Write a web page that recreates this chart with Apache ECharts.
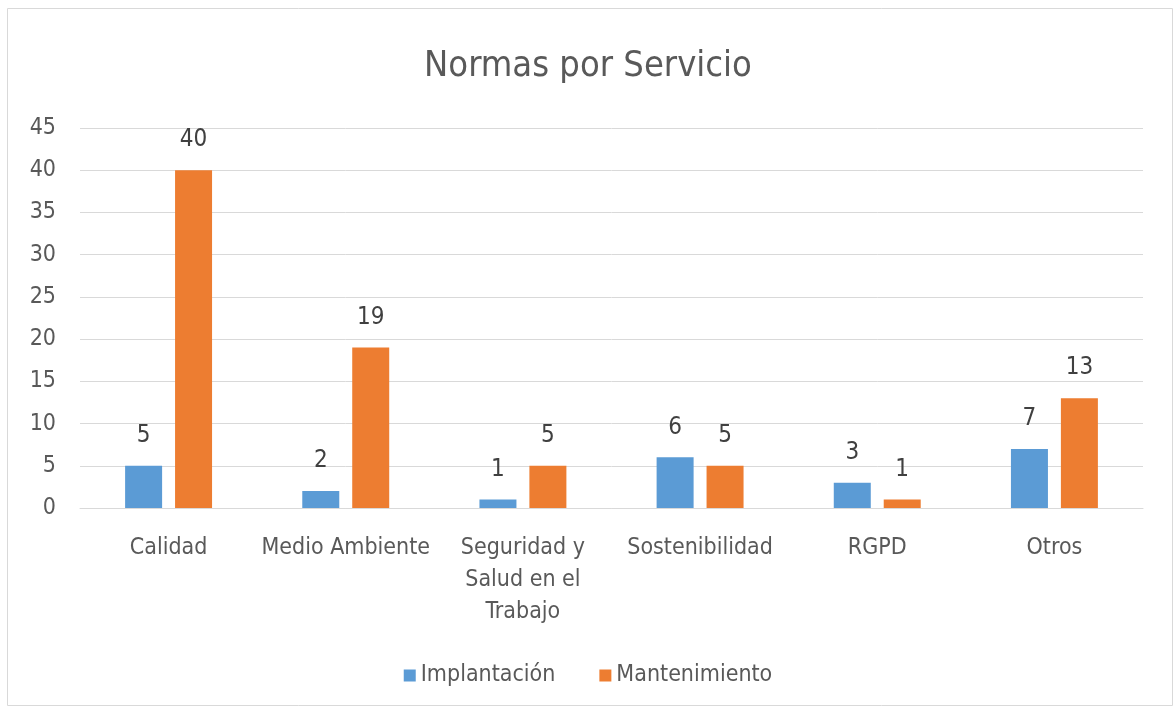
<!DOCTYPE html>
<html>
<head>
<meta charset="utf-8">
<script src="https://cdn.jsdelivr.net/npm/echarts@6/dist/echarts.min.js"></script>
<style>
  html, body { margin: 0; padding: 0; background: #fff; }
  #chart { width: 1176px; height: 710px; }
</style>
</head>
<body>
<div id="chart"></div>
<script>
const categories = ["Calidad", "Medio Ambiente", "Seguridad y\nSalud en el\nTrabajo", "Sostenibilidad", "RGPD", "Otros"];
const implantacion = [5, 2, 1, 6, 3, 7];
const mantenimiento = [40, 19, 5, 5, 1, 13];
const seriesNames = ["Implantación", "Mantenimiento"];

const font = '"DejaVu Sans Condensed", sans-serif';
const textColor = "#595959";

const chart = echarts.init(document.getElementById("chart"), null, { renderer: "canvas" });

const label = { show: true, position: "top", distance: 18, color: "#404040", fontFamily: font, fontSize: 24 };

chart.setOption({
  animation: false,
  color: ["#5B9BD5", "#ED7D31"],
  graphic: [{
    type: "rect",
    shape: { x: 7.5, y: 8.5, width: 1165, height: 697 },
    style: { fill: "none", stroke: "#d9d9d9", lineWidth: 1 },
    silent: true,
  }],
  title: {
    text: "Normas por Servicio",
    left: "center",
    top: 44,
    textStyle: { color: textColor, fontFamily: font, fontSize: 36, fontWeight: "normal" },
  },
  legend: {
    bottom: 18,
    left: "center",
    itemWidth: 12,
    itemHeight: 12,
    itemGap: 44,
    icon: "rect",
    textStyle: { color: textColor, fontFamily: font, fontSize: 23 },
    data: seriesNames,
  },
  grid: { left: 80, right: 33, top: 128, bottom: 202 },
  xAxis: {
    type: "category",
    data: categories,
    axisLine: { lineStyle: { color: "#d9d9d9" } },
    axisTick: { show: false },
    axisLabel: { color: textColor, fontFamily: font, fontSize: 23, margin: 24, lineHeight: 32, interval: 0 },
  },
  yAxis: {
    type: "value",
    min: 0,
    max: 45,
    interval: 5,
    axisLine: { show: false },
    axisTick: { show: false },
    axisLabel: { color: textColor, fontFamily: font, fontSize: 23, margin: 24 },
    splitLine: { lineStyle: { color: "#d9d9d9" } },
  },
  series: [
    { name: seriesNames[0], type: "bar", data: implantacion, barWidth: 37, barGap: "35%", label },
    { name: seriesNames[1], type: "bar", data: mantenimiento, barWidth: 37, barGap: "35%", label },
  ],
});
</script>
</body>
</html>
